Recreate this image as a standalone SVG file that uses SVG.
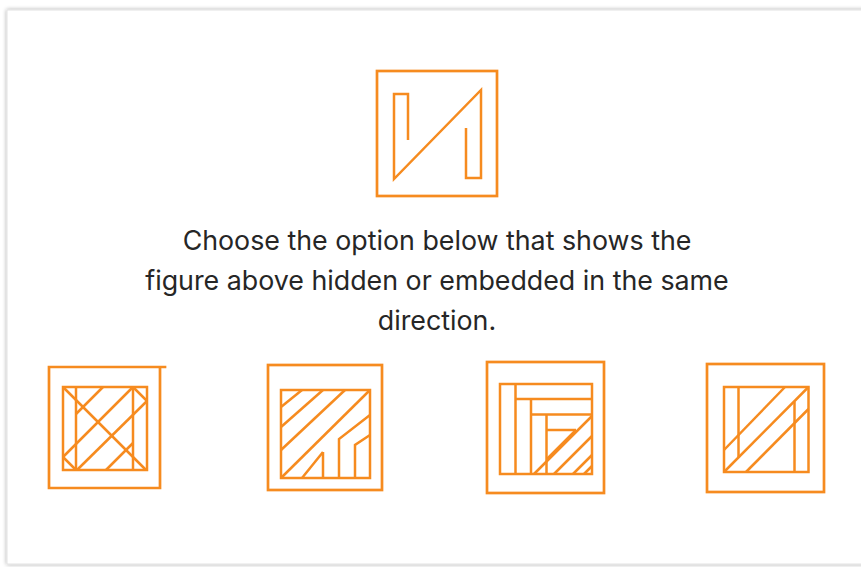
<svg xmlns="http://www.w3.org/2000/svg" width="861" height="567" viewBox="0 0 861 567">
<defs>
<filter id="sh" x="-5%" y="-5%" width="110%" height="110%">
<feGaussianBlur in="SourceAlpha" stdDeviation="2"/>
<feOffset dx="0" dy="0"/>
<feComponentTransfer><feFuncA type="linear" slope="0.35"/></feComponentTransfer>
<feMerge><feMergeNode/><feMergeNode in="SourceGraphic"/></feMerge>
</filter>
</defs>
<style>
.o{fill:none;stroke:#F68B1F;stroke-width:2.7;stroke-linecap:square;stroke-linejoin:miter}
.l{fill:none;stroke:#F68B1F;stroke-width:2.5;stroke-linecap:butt}
.t{font-family:Inter,"Noto Sans","Liberation Sans",sans-serif;font-size:26.8px;fill:#262626;text-anchor:middle}
</style>
<rect x="0" y="0" width="861" height="567" fill="#ffffff"/>
<rect id="card" x="7" y="10" width="900" height="554" fill="#ffffff" stroke="#e2e2e2" stroke-width="1" filter="url(#sh)"/>

<g id="target">
<rect class="o" x="377" y="71" width="120" height="125"/>
<polyline class="l" points="408,140 408,94 394,94 394,179 481,90 481,178 466,178 466,128"/>
</g>

<g id="question">
<text class="t" x="437" y="250">Choose the option below that shows the</text>
<text class="t" x="437" y="290">figure above hidden or embedded in the same</text>
<text class="t" x="437" y="330">direction.</text>
</g>

<g id="option1">
<polyline class="o" points="165,367 49,367 49,488 160,488 160,367"/>
<rect class="l" x="63" y="387" width="84" height="83"/>
<line class="l" x1="76" y1="387" x2="76" y2="470"/>
<line class="l" x1="133" y1="387" x2="133" y2="470"/>
<line class="l" x1="63" y1="387" x2="146" y2="470"/>
<line class="l" x1="133" y1="387" x2="63" y2="457"/>
<line class="l" x1="133" y1="387" x2="147" y2="401"/>
<line class="l" x1="147" y1="401" x2="77" y2="470"/>
<line class="l" x1="63" y1="457" x2="76" y2="470"/>
<line class="l" x1="103" y1="387" x2="76" y2="414"/>
<line class="l" x1="133" y1="443" x2="106" y2="470"/>
</g>

<g id="option2">
<rect class="o" x="268" y="365" width="114" height="125"/>
<rect class="l" x="281" y="390" width="89" height="88"/>
<line class="l" x1="302" y1="390" x2="281" y2="407"/>
<line class="l" x1="323" y1="390" x2="281" y2="427"/>
<line class="l" x1="345" y1="390" x2="281" y2="450"/>
<line class="l" x1="370" y1="390" x2="281" y2="478"/>
<polyline class="l" points="370,415 339,439 339,478"/>
<polyline class="l" points="370,435 355,445 355,478"/>
<line class="l" x1="323" y1="452" x2="302" y2="478"/>
<line class="l" x1="323" y1="452" x2="323" y2="478"/>
</g>

<g id="option3">
<rect class="o" x="487" y="362" width="117" height="131"/>
<rect class="l" x="500" y="384" width="92" height="90"/>
<line class="l" x1="515.5" y1="384" x2="515.5" y2="474"/>
<line class="l" x1="515.5" y1="399" x2="592" y2="399"/>
<line class="l" x1="531" y1="399" x2="531" y2="474"/>
<line class="l" x1="531" y1="414.5" x2="592" y2="414.5"/>
<line class="l" x1="546.5" y1="414.5" x2="546.5" y2="474"/>
<line class="l" x1="546.5" y1="430" x2="576" y2="430"/>
<line class="l" x1="592" y1="416" x2="534" y2="474"/>
<line class="l" x1="576" y1="430" x2="547" y2="459"/>
<line class="l" x1="592" y1="436" x2="554" y2="474"/>
<line class="l" x1="592" y1="455" x2="573" y2="474"/>
<line class="l" x1="592" y1="466" x2="584" y2="474"/>
</g>

<g id="option4">
<rect class="o" x="707" y="364" width="117" height="128"/>
<rect class="l" x="724" y="387" width="84.5" height="85"/>
<line class="l" x1="738.5" y1="387" x2="738.5" y2="457"/>
<line class="l" x1="794.5" y1="401.5" x2="794.5" y2="472"/>
<line class="l" x1="785" y1="387" x2="724" y2="450"/>
<line class="l" x1="808.5" y1="387" x2="724" y2="472"/>
<line class="l" x1="808.5" y1="409" x2="746" y2="472"/>
</g>
</svg>
